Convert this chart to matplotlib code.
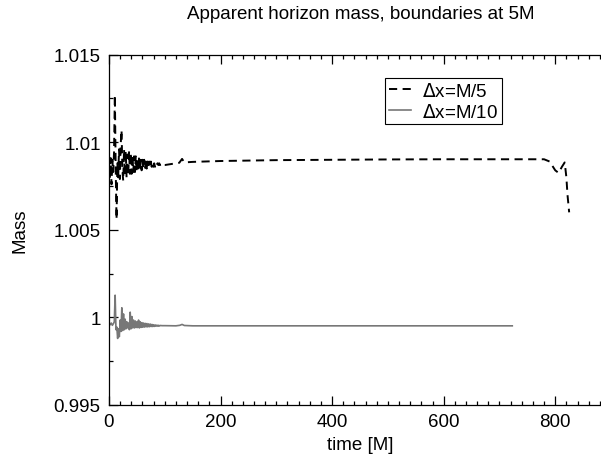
import matplotlib
matplotlib.use("Agg")
import matplotlib.pyplot as plt
from matplotlib.ticker import MultipleLocator, FixedLocator

# Datos: masa del horizonte aparente, dx = M/5 (discontinua)
t_m5 = [0, 1.5, 3, 4.5, 6, 7.5, 9, 10.5, 12, 13.5, 15, 16.5, 18, 19.5, 21,
        22.5, 24, 25.5, 27, 28.5, 30, 31.5, 33, 34.5, 36, 37.5, 39, 40.5,
        42, 43.5, 45, 46.5, 48, 49.5, 51, 52.5, 54, 55.5, 57, 58.5, 60,
        61.5, 63, 64.5, 66, 67.5, 69, 70.5, 72, 73.5, 75, 76.5, 78, 79.5,
        81, 82.5, 84, 85.5, 87, 88.5, 90, 91.5, 93, 94.5, 96, 97.5, 100,
        110, 120, 126, 131, 135, 150, 200, 300, 400, 500, 600, 700, 780,
        790, 800, 806, 812, 817, 820, 822, 825]
m_m5 = [1.0086, 1.0079, 1.0091, 1.0076, 1.0090, 1.0083, 1.0094, 1.0127,
        1.0085, 1.0056, 1.0088, 1.0080, 1.0096, 1.0079, 1.0099, 1.0107,
        1.0084, 1.0078, 1.0096, 1.0081, 1.0095, 1.0080, 1.0093, 1.0081,
        1.0095, 1.0082, 1.0094, 1.0082, 1.0093, 1.0083, 1.0092, 1.0083,
        1.0092, 1.0083, 1.0091, 1.0084, 1.0092, 1.0084, 1.0090, 1.0084,
        1.0090, 1.0085, 1.0090, 1.0085, 1.0089, 1.0085, 1.0089, 1.0086,
        1.0089, 1.0086, 1.0089, 1.0086, 1.0088, 1.0086, 1.0088, 1.0086,
        1.0088, 1.0087, 1.0088, 1.0087, 1.0088, 1.0087, 1.00875, 1.0087,
        1.00875, 1.0087, 1.0087, 1.00875, 1.0088, 1.00883, 1.00905, 1.00885,
        1.00888, 1.00893, 1.00898, 1.00900, 1.00902, 1.00903, 1.00903,
        1.00903, 1.0089, 1.0084, 1.00825, 1.0086, 1.00885, 1.0080, 1.0070,
        1.0060]

# dx = M/10 (continua, gris)
t_m10 = [0, 2, 4, 6, 8, 9.5, 11, 12.5, 14, 15.5, 17, 18.5, 20, 21.5, 23,
         24.5, 26, 27.5, 29, 30.5, 32, 33.5, 35, 36.5, 38, 39.5, 41, 42.5,
         44, 45.5, 47, 48.5, 50, 51.5, 53, 54.5, 56, 57.5, 59, 60.5, 62,
         63.5, 65, 66.5, 68, 69.5, 71, 72.5, 74, 75.5, 77, 78.5, 80, 81.5,
         83, 84.5, 86, 87.5, 89, 90.5, 92, 95, 100, 120, 127, 131, 135, 150,
         723]
m_m10 = [0.99965, 0.99958, 0.99968, 0.99955, 0.99965, 0.99975, 1.00127,
         0.99930, 0.99945, 0.99880, 0.99935, 0.99890, 0.99985, 0.99920,
         1.00055, 0.99925, 1.00020, 0.99930, 0.99990, 0.99935, 0.99975,
         0.99940, 0.99968, 0.99930, 1.00030, 0.99935, 1.00005, 0.99940,
         0.99985, 0.99940, 0.99980, 0.99942, 0.99975, 0.99942, 0.99985,
         0.99940, 0.99975, 0.99943, 0.99970, 0.99944, 0.99968, 0.99945,
         0.99966, 0.99946, 0.99965, 0.99946, 0.99963, 0.99947, 0.99962,
         0.99948, 0.99960, 0.99948, 0.99958, 0.99949, 0.99957, 0.99950,
         0.99956, 0.99950, 0.99955, 0.99951, 0.99954, 0.99953, 0.99953,
         0.99952, 0.99955, 0.99960, 0.99954, 0.99952, 0.99952]

y_ticks = [0.995, 1.0, 1.005, 1.01, 1.015]
y_labels = ["0.995", "1", "1.005", "1.01", "1.015"]
x_ticks = [0, 200, 400, 600, 800]

plt.rcParams['font.family'] = ['Liberation Sans', 'DejaVu Sans']
FS = 13.5

fig = plt.figure(figsize=(6.01, 4.6), dpi=100)
# el eje derecho queda fuera de la imagen, como en el original
ax = fig.add_axes([109 / 601, 1 - 406 / 460, (611 - 109) / 601, (406 - 55.7) / 460])

l1, = ax.plot(t_m5, m_m5, color='black', lw=1.4, label=r'$\Delta$x=M/5')
l1.set_dashes((4.2, 2.8))
ax.plot(t_m10, m_m10, color='#777777', lw=1.2, label=r'$\Delta$x=M/10')

ax.set_xlim(0, 900)
ax.set_ylim(0.995, 1.015)
ax.set_xticks(x_ticks)
ax.set_xticklabels([str(v) for v in x_ticks], fontsize=FS)
ax.yaxis.set_major_locator(FixedLocator(y_ticks))
ax.set_yticklabels(y_labels, fontsize=FS)
ax.xaxis.set_minor_locator(MultipleLocator(20))
ax.yaxis.set_minor_locator(MultipleLocator(0.0025))
ax.tick_params(which='both', direction='in', top=True, right=True, width=0.9)
ax.tick_params(which='major', length=6.5, pad=6)
ax.tick_params(which='minor', length=3.2)
for s in ax.spines.values():
    s.set_linewidth(0.9)

leg = ax.legend(loc='upper left', bbox_to_anchor=(385 / 601, 1 - 79 / 460),
                bbox_transform=fig.transFigure, borderaxespad=0, fontsize=FS,
                fancybox=False, framealpha=1, edgecolor='black',
                handlelength=1.2, handletextpad=0.6, borderpad=0.2,
                labelspacing=0.15)
leg.get_frame().set_linewidth(0.8)

fig.text(361 / 601, 1 - 14.5 / 460, "Apparent horizon mass, boundaries at 5M",
         ha='center', va='center', fontsize=FS)
fig.text(360 / 601, 1 - 446 / 460, "time [M]", ha='center', va='center', fontsize=FS)
fig.text(20 / 601, 1 - 231 / 460, "Mass", ha='center', va='center',
         rotation=90, fontsize=FS)

fig.savefig("out.png", dpi=100)
